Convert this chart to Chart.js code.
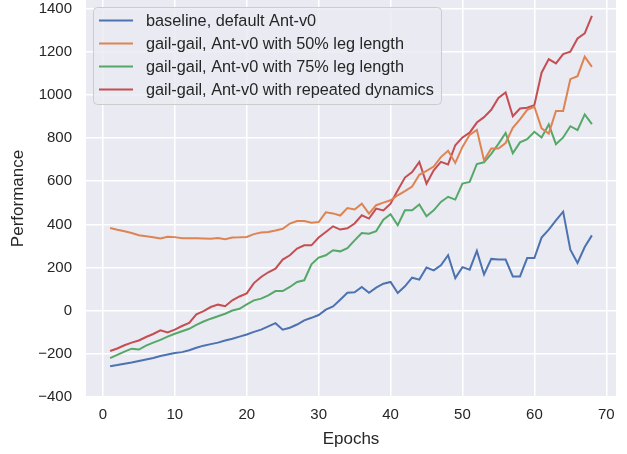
<!DOCTYPE html>
<html>
<head>
<meta charset="utf-8">
<script src="https://cdn.jsdelivr.net/npm/chart.js@4"></script>
<style>
  html, body { margin: 0; padding: 0; background: #fff; }
  #wrap { width: 627px; height: 454px; }
</style>
</head>
<body>
<div id="wrap"><canvas id="perf-chart" width="627" height="454"></canvas></div>
<script>
// Epochs on the x axis
const epochs = [1, 2, 3, 4, 5, 6, 7, 8, 9, 10, 11, 12, 13, 14, 15, 16, 17, 18, 19, 20,
    21, 22, 23, 24, 25, 26, 27, 28, 29, 30, 31, 32, 33, 34, 35, 36, 37, 38, 39, 40,
    41, 42, 43, 44, 45, 46, 47, 48, 49, 50, 51, 52, 53, 54, 55, 56, 57, 58, 59, 60,
    61, 62, 63, 64, 65, 66, 67, 68];

const xTicks = [0, 10, 20, 30, 40, 50, 60, 70];
const yTicks = [-400, -200, 0, 200, 400, 600, 800, 1000, 1200, 1400];

const seriesNames = [
    'baseline, default Ant-v0',
    'gail-gail, Ant-v0 with 50% leg length',
    'gail-gail, Ant-v0 with 75% leg length',
    'gail-gail, Ant-v0 with repeated dynamics'
];

const baseline = [-257, -252, -246, -240, -233, -226, -219, -210, -203, -196,
    -192, -183, -172, -162, -155, -148, -138, -130, -120, -110,
    -98, -88, -73, -58, -88, -79, -64, -45, -33, -20,
    5, 20, 51, 83, 85, 110, 83, 107, 125, 133,
    82, 113, 153, 144, 200, 187, 210, 257, 151, 202,
    190, 277, 168, 240, 237, 237, 159, 159, 244, 244,
    339, 376, 419, 459, 283, 221, 295, 349];

const leg50 = [383, 375, 368, 360, 350, 345, 340, 335, 343, 341,
    336, 336, 336, 335, 333, 337, 331, 339, 340, 342,
    355, 362, 365, 372, 380, 404, 416, 416, 408, 411,
    456, 451, 441, 476, 469, 496, 450, 489, 501, 512,
    535, 554, 575, 630, 648, 668, 712, 741, 685, 759,
    815, 838, 697, 752, 752, 777, 848, 887, 931, 945,
    845, 821, 926, 926, 1073, 1087, 1177, 1130];

const leg75 = [-220, -205, -190, -176, -180, -162, -148, -135, -120, -107,
    -95, -84, -66, -50, -37, -26, -14, 1, 9, 29,
    48, 56, 71, 91, 91, 110, 133, 141, 215, 246,
    257, 280, 275, 290, 326, 360, 357, 369, 422, 447,
    396, 465, 465, 492, 438, 465, 504, 528, 515, 589,
    597, 680, 688, 727, 773, 824, 730, 780, 795, 829,
    803, 863, 772, 803, 855, 837, 910, 865];

const repeated = [-187, -175, -160, -148, -138, -122, -108, -91, -101, -88,
    -71, -57, -17, -2, 17, 28, 21, 48, 66, 80,
    128, 156, 178, 195, 237, 257, 288, 303, 303, 339,
    365, 391, 376, 382, 404, 442, 427, 473, 465, 496,
    558, 617, 643, 690, 589, 651, 690, 678, 767, 803,
    825, 872, 897, 931, 986, 1012, 901, 937, 941, 953,
    1103, 1166, 1146, 1189, 1200, 1262, 1285, 1366];

const colors = ['#4C72B0', '#DD8452', '#55A868', '#C44E52'];
const allSeries = [baseline, leg50, leg75, repeated];

Chart.defaults.font.family = '"Liberation Sans", Arial, sans-serif';
Chart.defaults.color = '#262626';

// Grey seaborn-like plot background
const plotBackground = {
    id: 'plotBackground',
    beforeDraw(chart) {
        const { ctx, chartArea: a } = chart;
        ctx.save();
        ctx.fillStyle = '#EAEAF2';
        ctx.fillRect(a.left, a.top, a.right - a.left, a.bottom - a.top);
        ctx.restore();
    }
};

// Legend box drawn inside the plot, top left
const innerLegend = {
    id: 'innerLegend',
    afterDraw(chart) {
        const ctx = chart.ctx;
        const x0 = 93.5, y0 = 7.5, w = 348, h = 97, r = 4;
        ctx.save();
        ctx.beginPath();
        ctx.roundRect(x0, y0, w, h, r);
        ctx.fillStyle = 'rgba(234,234,242,0.8)';
        ctx.fill();
        ctx.strokeStyle = '#CCCCCC';
        ctx.lineWidth = 1;
        ctx.stroke();
        ctx.font = '16.3px "Liberation Sans", Arial, sans-serif';
        ctx.textBaseline = 'middle';
        ctx.fillStyle = '#262626';
        chart.data.datasets.forEach(function(ds, i) {
            const y = 20.5 + i * 23;
            ctx.beginPath();
            ctx.moveTo(99, y);
            ctx.lineTo(133, y);
            ctx.strokeStyle = ds.borderColor;
            ctx.lineWidth = 2;
            ctx.stroke();
            ctx.fillText(ds.label, 146, y + 1);
        });
        ctx.restore();
    }
};

function fixedTicks(list) {
    return function(scale) {
        scale.ticks = list.map(function(v) { return { value: v }; });
    };
}

const ctx = document.getElementById('perf-chart');
new Chart(ctx, {
    type: 'line',
    data: {
        datasets: allSeries.map(function(values, i) {
            return {
                label: seriesNames[i],
                data: values.map(function(v, j) { return { x: epochs[j], y: v }; }),
                borderColor: colors[i],
                backgroundColor: colors[i],
                borderWidth: 2,
                pointRadius: 0,
                tension: 0,
                fill: false
            };
        })
    },
    options: {
        responsive: false,
        animation: false,
        layout: { padding: { top: 0, right: 11, bottom: 0, left: 0 } },
        plugins: {
            legend: { display: false },
            tooltip: { enabled: false }
        },
        scales: {
            x: {
                type: 'linear',
                min: -2.35,
                max: 71.35,
                border: { display: false },
                grid: { color: '#FFFFFF', lineWidth: 1.5, drawTicks: false },
                afterBuildTicks: fixedTicks(xTicks),
                ticks: {
                    padding: 9,
                    font: { size: 15 },
                    color: '#262626'
                },
                title: {
                    display: true,
                    text: 'Epochs',
                    font: { size: 17 },
                    color: '#262626',
                    padding: { top: 0, bottom: 4 }
                },
                afterFit: function(scale) {
                    scale.height = 57;
                    scale.paddingLeft = 0;
                    scale.paddingRight = 0;
                }
            },
            y: {
                min: -400,
                max: 1440,
                border: { display: false },
                grid: { color: '#FFFFFF', lineWidth: 1.5, drawTicks: false },
                afterBuildTicks: fixedTicks(yTicks),
                ticks: {
                    padding: 14,
                    font: { size: 15 },
                    color: '#262626',
                    callback: function(v) { return String(v).replace('-', '\u2212'); }
                },
                title: {
                    display: true,
                    text: 'Performance',
                    font: { size: 17 },
                    color: '#262626',
                    padding: { top: 8, bottom: 0 }
                },
                afterFit: function(scale) {
                    scale.width = 86;
                    scale.paddingTop = 0;
                    scale.paddingBottom = 0;
                }
            }
        }
    },
    plugins: [plotBackground, innerLegend]
});
</script>
</body>
</html>
